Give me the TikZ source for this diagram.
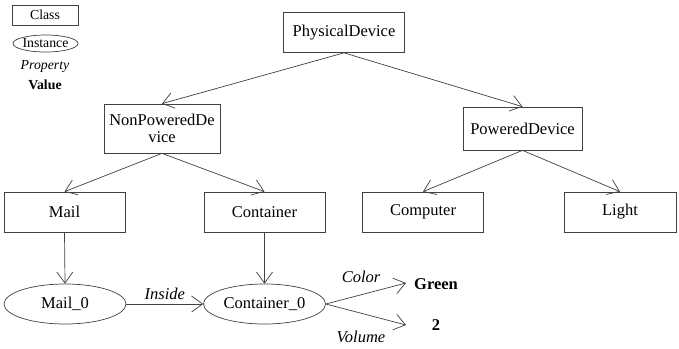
\documentclass[tikz,border=0pt]{standalone}
\usepackage{fontspec}
\setmainfont{Liberation Serif}
\newfontfamily\tnr{Liberation Serif}
\usetikzlibrary{arrows.meta,shapes.geometric}
\begin{document}
\begin{tikzpicture}[x=1pt,y=-1pt,
  font=\tnr\fontsize{16.5}{19}\selectfont,
  lin/.style={draw=black!75, line width=0.7pt},
  cls/.style={lin, rectangle, inner sep=0pt, minimum width=121pt, minimum height=40pt, align=center},
  inst/.style={lin, ellipse, inner sep=0pt, minimum width=122pt, minimum height=40pt},
  arr/.style={black!75, line width=0.7pt, -{Straight Barb[length=11pt,width=16pt,line width=0.7pt]}},
  lab/.style={text=black, font=\tnr\fontsize{16.5}{19}\selectfont\itshape},
  small/.style={font=\tnr\fontsize{13.8}{16}\selectfont}
]
\useasboundingbox (0,0) rectangle (679,348);
% legend
\node[lin, rectangle, inner sep=0pt, minimum width=66pt, minimum height=20pt, small] (lc) at (45,15) {Class};
\node[lin, ellipse, inner sep=0pt, minimum width=65pt, minimum height=17pt, small] (li) at (45.5,43.5) {Instance};
\node[font=\tnr\fontsize{13.8}{16}\selectfont\itshape] (lp) at (45,66) {Property};
\node[font=\tnr\fontsize{13.8}{16}\selectfont\bfseries] (lv) at (45,85) {Value};
% classes
\node[cls] (pd) at (344,32.5) {PhysicalDevice};
\node[cls, minimum width=116pt, minimum height=49pt] (npd) at (162,128.5) {NonPoweredDe\\[-2pt]vice};
\node[cls, minimum width=119pt, minimum height=43pt] (pwd) at (522.5,128.5) {PoweredDevice};
\node[cls] (mail) at (64.5,212) {Mail};
\node[cls] (cont) at (264.5,212) {Container};
\node[cls] (comp) at (423,212) {Computer};
\node[cls, minimum width=112pt] (light) at (620,212) {Light};
% instances
\node[inst] (m0) at (65,304) {Mail\_0};
\node[inst] (c0) at (264.5,304) {Container\_0};
% values
\node[font=\tnr\fontsize{16.5}{19}\selectfont\bfseries] (green) at (436,284) {Green};
\node[font=\tnr\fontsize{16.5}{19}\selectfont\bfseries] (two) at (436,325) {2};
\coordinate (ga) at (406,283);
\coordinate (ta) at (406,325);
% connectors
\draw[arr] (pd.south) -- (npd.north);
\draw[arr] (pd.south) -- (pwd.north);
\draw[arr] (npd.south) -- (mail.north);
\draw[arr] (npd.south) -- (cont.north);
\draw[arr] (pwd.south) -- (comp.north);
\draw[arr] (pwd.south) -- (light.north);
\draw[arr] (mail.south) -- (m0.north);
\draw[arr] (cont.south) -- (c0.north);
\draw[arr] (m0.east) -- node[above=1pt, lab] (lin1) {Inside} (c0.west);
\draw[arr] (c0.east) -- (ga);
\draw[arr] (c0.east) -- (ta);
\node[lab] (lcol) at (361,277) {Color};
\node[lab] (lvol) at (361,337) {Volume};
\end{tikzpicture}
\end{document}
